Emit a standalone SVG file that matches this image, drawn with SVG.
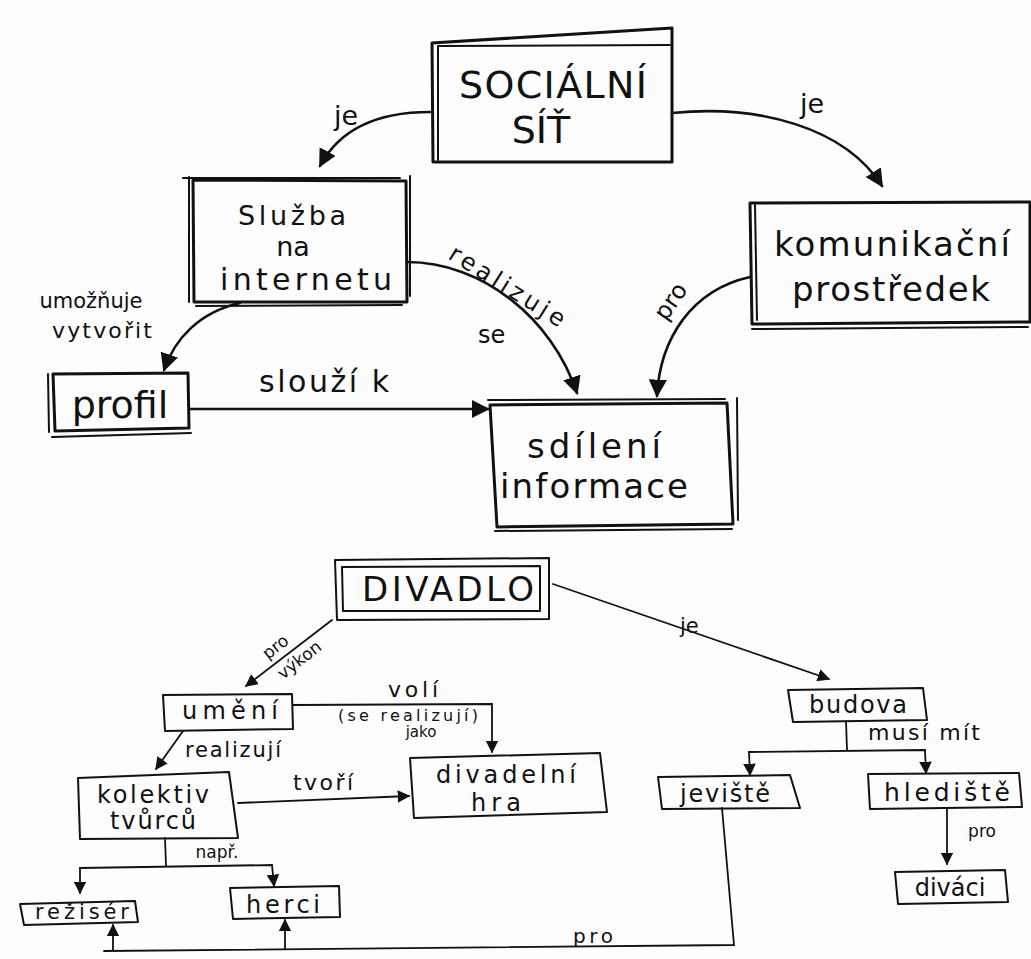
<svg xmlns="http://www.w3.org/2000/svg" width="1031" height="959" viewBox="0 0 1031 959">
  <style>
    .bg { fill: #fdfdfd; }
    .box { fill: none; stroke: #111; stroke-width: 3; stroke-linejoin: round; stroke-linecap: round; }
    .box2 { fill: none; stroke: #111; stroke-width: 2; stroke-linejoin: round; stroke-linecap: round; }
    .edge { fill: none; stroke: #111; stroke-width: 2.6; stroke-linecap: round; }
    .edge2 { fill: none; stroke: #111; stroke-width: 1.8; stroke-linecap: round; }
    .t { font-family: "DejaVu Sans", "Liberation Sans", sans-serif; fill: #111; }
    .c { text-anchor: middle; }
    .big { font-size: 38px; }
    .nd { font-size: 34px; }
    .nd2 { font-size: 27px; }
    .mid { font-size: 27px; }
    .lbl { font-size: 24px; }
    .ln { font-size: 24px; }
    .sm { font-size: 21px; }
    .xs { font-size: 17px; }
    .xxs { font-size: 15px; }
  </style>
  <defs>
    <marker id="ahBig" viewBox="0 0 10 10" refX="9" refY="5" markerWidth="7" markerHeight="7" markerUnits="strokeWidth" orient="auto">
      <path d="M0,0 L10,5 L0,10 Z" fill="#111"/>
    </marker>
    <marker id="ahSm" viewBox="0 0 10 10" refX="9" refY="5" markerWidth="7" markerHeight="7" markerUnits="strokeWidth" orient="auto">
      <path d="M0,0 L10,5 L0,10 Z" fill="#111"/>
    </marker>
  </defs>

  <rect class="bg" x="0" y="0" width="1031" height="959"/>

  <!-- connectors -->
  <g id="connectors">
    <!-- upper map -->
    <path class="edge" d="M430,112 C372,112 338,132 320,166" marker-end="url(#ahBig)"/>
    <path class="edge" d="M672,113 C760,104 845,128 882,186" marker-end="url(#ahBig)"/>
    <path class="edge" d="M240,303 C200,312 175,338 164,370" marker-end="url(#ahBig)"/>
    <path class="edge" d="M407,262 C482,262 552,318 577,393" marker-end="url(#ahBig)"/>
    <path class="edge" d="M750,277 C692,290 660,338 657,396" marker-end="url(#ahBig)"/>
    <path class="edge" d="M190,409 L488,409" marker-end="url(#ahBig)"/>

    <!-- lower map -->
    <path class="edge2" d="M332,620 L246,686" marker-end="url(#ahSm)"/>
    <path class="edge2" d="M553,584 L829,679" marker-end="url(#ahSm)"/>
    <path class="edge2" d="M293,705 L492,704 L492,752" marker-end="url(#ahSm)"/>
    <path class="edge2" d="M183,731 L156,769" marker-end="url(#ahSm)"/>
    <path class="edge2" d="M238,803 L409,796" marker-end="url(#ahSm)"/>
    <!-- např. branch -->
    <path class="edge2" d="M165,838 L166,866"/>
    <path class="edge2" d="M80,868 L272,865 L274,886" marker-end="url(#ahSm)"/>
    <path class="edge2" d="M80,868 L80,893" marker-end="url(#ahSm)"/>
    <!-- musí mít branch -->
    <path class="edge2" d="M846,721 L847,750"/>
    <path class="edge2" d="M749,752 L925,750 L926,773" marker-end="url(#ahSm)"/>
    <path class="edge2" d="M749,752 L750,775" marker-end="url(#ahSm)"/>
    <path class="edge2" d="M947,809 L947,864" marker-end="url(#ahSm)"/>
    <!-- pro: jeviště to režisér and herci -->
    <path class="edge2" d="M722,808 L734,945 L104,951"/>
    <path class="edge2" d="M113,950 L113,925" marker-end="url(#ahSm)"/>
    <path class="edge2" d="M285,949 L285,920" marker-end="url(#ahSm)"/>
  </g>

  <!-- connector labels -->
  <g id="labels">
    <text class="t mid" x="334" y="125">je</text>
    <text class="t mid" x="800" y="113">je</text>
    <text class="t sm c" x="91" y="308">umožňuje</text>
    <text class="t c" style="font-size:22px" x="102" y="338" textLength="100" lengthAdjust="spacing">vytvořit</text>
    <text class="t c" style="font-size:30px" x="324" y="392" textLength="130" lengthAdjust="spacing">slouží k</text>
    <text class="t lbl" transform="translate(447,258) rotate(32)" textLength="132" lengthAdjust="spacing">realizuje</text>
    <text class="t lbl" x="478" y="343">se</text>
    <text class="t lbl" transform="translate(666,322) rotate(-55)">pro</text>

    <text class="t xs" transform="translate(268,660) rotate(-38)">pro</text>
    <text class="t xs" transform="translate(283,680) rotate(-38)">výkon</text>
    <text class="t c" style="font-size:22px" x="413" y="697" textLength="50" lengthAdjust="spacing">volí</text>
    <text class="t c" style="font-size:16px" x="408" y="721" textLength="140" lengthAdjust="spacing">(se realizují)</text>
    <text class="t xxs c" x="421" y="737">jako</text>
    <text class="t sm c" x="233" y="757" textLength="96" lengthAdjust="spacing">realizují</text>
    <text class="t c" style="font-size:22px" x="323" y="790" textLength="60" lengthAdjust="spacing">tvoří</text>
    <text class="t xs c" x="217" y="858">např.</text>
    <text class="t sm" x="680" y="633">je</text>
    <text class="t c" style="font-size:22px" x="924" y="740" textLength="112" lengthAdjust="spacing">musí mít</text>
    <text class="t xs c" x="982" y="837">pro</text>
    <text class="t c" style="font-size:20px" x="593" y="943" textLength="40" lengthAdjust="spacing">pro</text>
  </g>

  <!-- upper map nodes -->
  <g id="socialni-sit">
    <path class="box" d="M432,43 L672,28 L672,162 L433,162 Z"/>
    <path class="box2" d="M438,160 L438,46 L670,45"/>
    <text class="t big c" x="553" y="98" textLength="188" lengthAdjust="spacing">SOCIÁLNÍ</text>
    <text class="t big c" x="541" y="143">SÍŤ</text>
  </g>

  <g id="sluzba">
    <path class="box" d="M193,180 L406,181 L407,302 L194,302 Z"/>
    <path class="box2" d="M189,177 L189,302 M183,178 L400,178 M410,176 L410,296 M196,306 L402,305"/>
    <text class="t nd2 c" x="292" y="225" textLength="108" lengthAdjust="spacing">Služba</text>
    <text class="t nd2 c" x="293" y="256">na</text>
    <text class="t c" style="font-size:30px" x="306" y="290" textLength="172" lengthAdjust="spacing">internetu</text>
  </g>

  <g id="profil">
    <path class="box" d="M53,374 L188,373 L189,428 L55,431 Z"/>
    <path class="box2" d="M48,374 L49,432 M52,437 L191,433"/>
    <text class="t big c" x="120" y="418">profil</text>
  </g>

  <g id="sdileni">
    <path class="box" d="M490,405 L727,403 L733,524 L497,527 Z"/>
    <path class="box2" d="M488,400 L725,399 M737,398 L738,520 M495,531 L732,529"/>
    <text class="t nd c" x="594" y="458" textLength="134" lengthAdjust="spacing">sdílení</text>
    <text class="t nd c" x="594" y="498" textLength="188" lengthAdjust="spacing">informace</text>
  </g>

  <g id="komunikacni">
    <path class="box" d="M750,203 L1030,202 L1030,322 L752,324 Z"/>
    <path class="box2" d="M755,205 L757,320 M752,329 L1028,327"/>
    <text class="t nd c" x="892" y="256" textLength="236" lengthAdjust="spacing">komunikační</text>
    <text class="t nd c" x="891" y="301" textLength="198" lengthAdjust="spacing">prostředek</text>
  </g>

  <!-- lower map nodes -->
  <g id="divadlo">
    <path class="box2" d="M335,560 L549,558 L549,619 L337,620 Z"/>
    <path class="box2" d="M342,567 L540,566 L540,611 L343,611 Z"/>
    <text class="t nd c" x="448" y="601" textLength="172" lengthAdjust="spacing">DIVADLO</text>
  </g>

  <g id="umeni">
    <path class="box2" d="M163,695 L292,694 L293,729 L165,731 Z"/>
    <text class="t ln c" x="230" y="719" textLength="96" lengthAdjust="spacing">umění</text>
  </g>

  <g id="kolektiv">
    <path class="box2" d="M78,778 L229,772 L238,838 L80,839 Z"/>
    <text class="t ln c" x="153" y="803" textLength="112" lengthAdjust="spacing">kolektiv</text>
    <text class="t ln c" x="153" y="829" textLength="86" lengthAdjust="spacing">tvůrců</text>
  </g>

  <g id="divadelni-hra">
    <path class="box2" d="M410,758 L600,753 L607,812 L414,818 Z"/>
    <text class="t ln c" x="506" y="783" textLength="140" lengthAdjust="spacing">divadelní</text>
    <text class="t ln c" x="496" y="811" textLength="50" lengthAdjust="spacing">hra</text>
  </g>

  <g id="reziser">
    <path class="box2" d="M20,904 L135,901 L138,922 L24,925 Z"/>
    <text class="t sm c" x="82" y="919" textLength="94" lengthAdjust="spacing">režisér</text>
  </g>

  <g id="herci">
    <path class="box2" d="M230,888 L339,886 L340,917 L233,919 Z"/>
    <text class="t ln c" x="283" y="913" textLength="74" lengthAdjust="spacing">herci</text>
  </g>

  <g id="budova">
    <path class="box2" d="M788,690 L923,688 L927,720 L793,722 Z"/>
    <text class="t ln c" x="858" y="713" textLength="98" lengthAdjust="spacing">budova</text>
  </g>

  <g id="jeviste">
    <path class="box2" d="M658,777 L790,775 L800,808 L662,809 Z"/>
    <text class="t ln c" x="725" y="802" textLength="90" lengthAdjust="spacing">jeviště</text>
  </g>

  <g id="hlediste">
    <path class="box2" d="M868,774 L1019,773 L1022,807 L870,809 Z"/>
    <text class="t c" style="font-size:25px" x="947" y="801" textLength="126" lengthAdjust="spacing">hlediště</text>
  </g>

  <g id="divaci">
    <path class="box2" d="M895,872 L1005,870 L1008,902 L898,904 Z"/>
    <text class="t ln c" x="950" y="896">diváci</text>
  </g>
</svg>
